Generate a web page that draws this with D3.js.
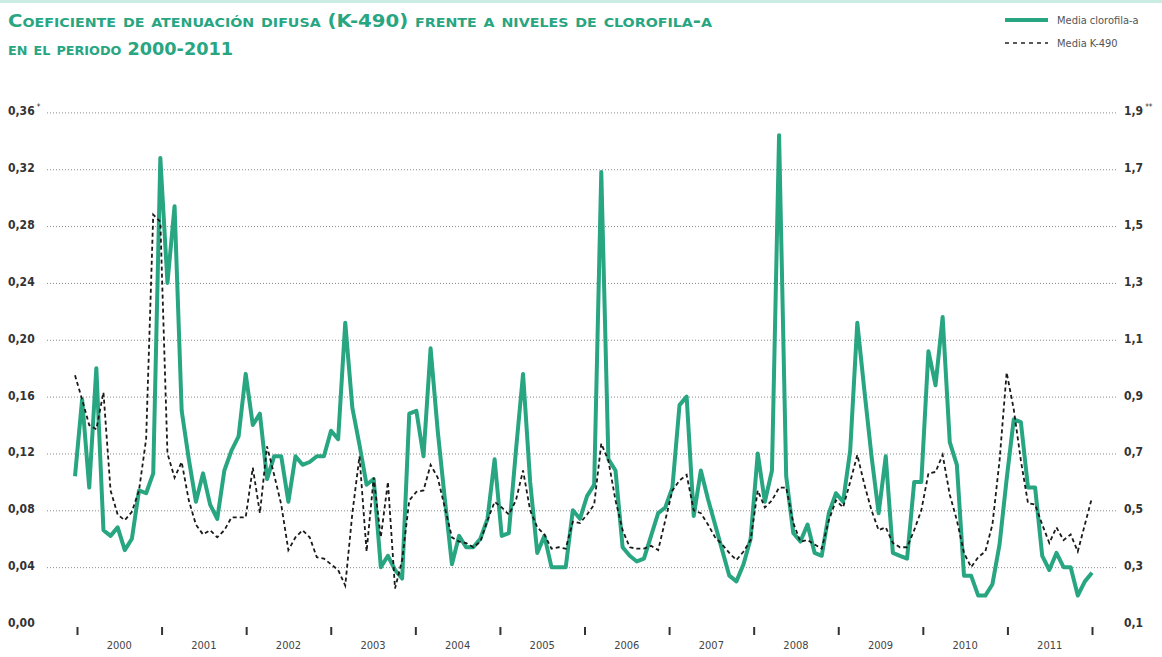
<!DOCTYPE html>
<html>
<head>
<meta charset="utf-8">
<script src="https://cdn.jsdelivr.net/npm/d3@7"></script>
<style>
body { margin: 0; background: #fff; }
svg { display: block; font-family: "DejaVu Sans Condensed", "Liberation Sans Narrow", sans-serif; }
</style>
</head>
<body>
<svg id="chart" width="1162" height="657"></svg>
<script>
// DATA - monthly means jan 2000 .. dec 2011
var years = [2000, 2001, 2002, 2003, 2004, 2005, 2006, 2007, 2008, 2009, 2010, 2011];

// media clorofila-a (right axis)
var clorofila = [
  0.62, 0.89, 0.58, 1.00, 0.43, 0.41, 0.44, 0.36, 0.40, 0.57, 0.56, 0.63,
  1.74, 1.30, 1.57, 0.85, 0.68, 0.53, 0.63, 0.52, 0.47, 0.64, 0.71, 0.76,
  0.98, 0.80, 0.84, 0.61, 0.69, 0.69, 0.53, 0.69, 0.66, 0.67, 0.69, 0.69,
  0.78, 0.75, 1.16, 0.86, 0.73, 0.59, 0.61, 0.30, 0.34, 0.29, 0.26, 0.84,
  0.85, 0.69, 1.07, 0.78, 0.54, 0.31, 0.41, 0.37, 0.37, 0.40, 0.47, 0.68,
  0.41, 0.42, 0.71, 0.98, 0.60, 0.35, 0.41, 0.30, 0.30, 0.30, 0.50, 0.47,
  0.55, 0.59, 1.69, 0.68, 0.64, 0.37, 0.34, 0.32, 0.33, 0.41, 0.49, 0.51,
  0.58, 0.87, 0.90, 0.48, 0.64, 0.54, 0.45, 0.36, 0.27, 0.25, 0.31, 0.40,
  0.70, 0.53, 0.64, 1.82, 0.62, 0.42, 0.39, 0.45, 0.35, 0.34, 0.49, 0.56,
  0.53, 0.71, 1.16, 0.92, 0.69, 0.49, 0.69, 0.35, 0.34, 0.33, 0.60, 0.60,
  1.06, 0.94, 1.18, 0.74, 0.66, 0.27, 0.27, 0.20, 0.20, 0.24, 0.38, 0.61,
  0.82, 0.81, 0.58, 0.58, 0.34, 0.29, 0.35, 0.30, 0.30, 0.20, 0.25, 0.28
];

// media K-490 (left axis)
var k490 = [
  0.175, 0.158, 0.140, 0.137, 0.163, 0.094, 0.077, 0.073, 0.079, 0.094, 0.130, 0.288,
  0.283, 0.120, 0.103, 0.114, 0.087, 0.070, 0.063, 0.066, 0.061, 0.066, 0.075, 0.075,
  0.075, 0.110, 0.078, 0.125, 0.105, 0.084, 0.052, 0.061, 0.066, 0.061, 0.047, 0.046,
  0.042, 0.038, 0.027, 0.078, 0.118, 0.051, 0.103, 0.061, 0.100, 0.025, 0.045, 0.087,
  0.093, 0.094, 0.112, 0.103, 0.082, 0.061, 0.058, 0.057, 0.054, 0.058, 0.073, 0.086,
  0.082, 0.077, 0.087, 0.108, 0.080, 0.068, 0.063, 0.053, 0.054, 0.053, 0.072, 0.071,
  0.077, 0.084, 0.127, 0.115, 0.087, 0.066, 0.054, 0.053, 0.053, 0.055, 0.052, 0.073,
  0.094, 0.101, 0.105, 0.080, 0.078, 0.070, 0.061, 0.056, 0.050, 0.045, 0.051, 0.059,
  0.094, 0.082, 0.087, 0.096, 0.096, 0.071, 0.058, 0.059, 0.056, 0.053, 0.073, 0.087,
  0.082, 0.100, 0.119, 0.098, 0.080, 0.066, 0.068, 0.057, 0.054, 0.054, 0.066, 0.080,
  0.106, 0.107, 0.119, 0.091, 0.073, 0.050, 0.040, 0.047, 0.051, 0.070, 0.115, 0.177,
  0.151, 0.115, 0.085, 0.084, 0.070, 0.057, 0.068, 0.059, 0.063, 0.051, 0.070, 0.089
];

var leftTicks = [0, 0.04, 0.08, 0.12, 0.16, 0.20, 0.24, 0.28, 0.32, 0.36];
var rightTicks = [0.1, 0.3, 0.5, 0.7, 0.9, 1.1, 1.3, 1.5, 1.7, 1.9];

var teal = '#28a581';

// SCALES
var yLeft = d3.scaleLinear().domain([0, 0.36]).range([624, 112.4]);
var yRight = d3.scaleLinear().domain([0.1, 1.9]).range([624, 112.4]);
var xMonth = d3.scaleLinear().domain([0, clorofila.length - 1]).range([75, 1092]);
var xYear = d3.scaleLinear().domain([2000, 2012]).range([77, 1092]);

var svg = d3.select('#chart');

// thin strip at the very top
svg.append('rect').attr('x', 0).attr('y', 0).attr('width', 1162).attr('height', 3).attr('fill', '#c9ede3');

// TITLE
svg.append('text')
  .attr('x', 8).attr('y', 27)
  .attr('textLength', 704).attr('lengthAdjust', 'spacingAndGlyphs')
  .style('font-variant', 'small-caps')
  .style('font-weight', 'bold').style('font-size', '18px')
  .attr('fill', teal)
  .text('Coeficiente de atenuación difusa (K-490) frente a niveles de clorofila-a');

svg.append('text')
  .attr('x', 8).attr('y', 55)
  .attr('textLength', 225).attr('lengthAdjust', 'spacingAndGlyphs')
  .style('font-variant', 'small-caps')
  .style('font-weight', 'bold').style('font-size', '18px')
  .attr('fill', teal)
  .text('en el periodo 2000-2011');

// LEGEND
svg.append('line').attr('x1', 1005).attr('x2', 1048).attr('y1', 20).attr('y2', 20)
  .attr('stroke', teal).attr('stroke-width', 4);
svg.append('text').attr('x', 1057).attr('y', 24).attr('fill', '#555').style('font-size', '11px')
  .text('Media clorofila-a');
svg.append('line').attr('x1', 1005).attr('x2', 1048).attr('y1', 43).attr('y2', 43)
  .attr('stroke', '#222').attr('stroke-width', 1.6).attr('stroke-dasharray', '4,4');
svg.append('text').attr('x', 1057).attr('y', 47).attr('fill', '#555').style('font-size', '11px')
  .text('Media K-490');

// GRID - dotted lines through an axis, no gridline at 0
var grid = svg.append('g')
  .attr('transform', 'translate(47,0)')
  .call(d3.axisRight(yLeft).tickValues(leftTicks.slice(1)).tickSize(1071).tickFormat(''));
grid.select('.domain').remove();
grid.selectAll('.tick line')
  .attr('stroke', '#8a8a8a').attr('stroke-width', 1).attr('stroke-dasharray', '1,2');

// left labels
var fmtLeft = function(d){ return d3.format('.2f')(d).replace('.', ','); };
var fmtRight = function(d){ return d3.format('.1f')(d).replace('.', ','); };

var leftLab = svg.append('g').selectAll('text').data(leftTicks).enter().append('text')
  .attr('x', 8).attr('y', function(d){ return yLeft(d) + 3; })
  .attr('fill', '#333').style('font-size', '12px').style('font-weight', 'bold')
  .text(fmtLeft);
leftLab.filter(function(d){ return d === 0.36; })
  .append('tspan').attr('dx', 2).attr('dy', -5).style('font-size', '8px').style('font-weight', 'normal').text('*');

var rightLab = svg.append('g').selectAll('text').data(rightTicks).enter().append('text')
  .attr('x', 1124).attr('y', function(d){ return yRight(d) + 3; })
  .attr('fill', '#333').style('font-size', '12px').style('font-weight', 'bold')
  .text(fmtRight);
rightLab.filter(function(d){ return d === 1.9; })
  .append('tspan').attr('dx', 2).attr('dy', -5).style('font-size', '8px').style('font-weight', 'normal').text('**');

// X AXIS - year ticks and labels in the middle of each year
var xAxis = svg.append('g')
  .attr('transform', 'translate(0,627)')
  .call(d3.axisBottom(xYear).tickValues(d3.range(2000, 2013)).tickSize(8).tickFormat(''));
xAxis.select('.domain').remove();
xAxis.selectAll('.tick line').attr('stroke', '#333').attr('stroke-width', 2);

svg.append('g').selectAll('text').data(years).enter().append('text')
  .attr('x', function(d){ return xYear(d + 0.5); })
  .attr('y', 649)
  .attr('text-anchor', 'middle')
  .attr('fill', '#444').style('font-size', '11px')
  .text(function(d){ return d; });

// LINES
var lineClo = d3.line()
  .x(function(d, i){ return xMonth(i); })
  .y(function(d){ return yRight(d); });
var lineK = d3.line()
  .x(function(d, i){ return xMonth(i); })
  .y(function(d){ return yLeft(d); });

svg.append('path').datum(clorofila)
  .attr('d', lineClo)
  .attr('fill', 'none').attr('stroke', teal).attr('stroke-width', 4)
  .attr('stroke-linejoin', 'round');

svg.append('path').datum(k490)
  .attr('d', lineK)
  .attr('fill', 'none').attr('stroke', '#1a1a1a').attr('stroke-width', 1.8)
  .attr('stroke-dasharray', '4,3');
</script>
</body>
</html>
